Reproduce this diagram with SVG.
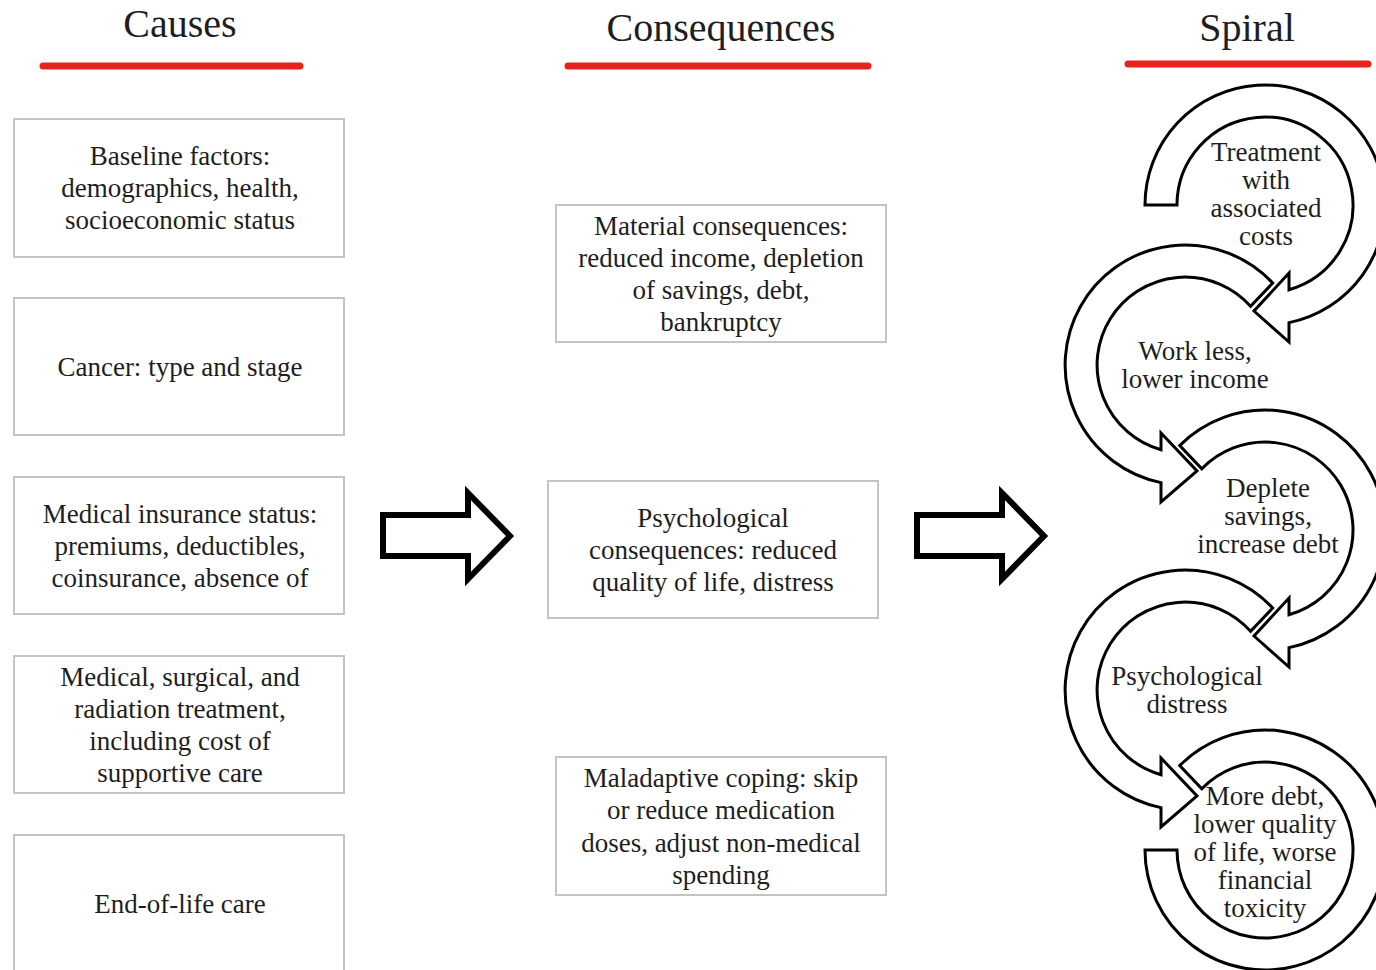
<svg xmlns="http://www.w3.org/2000/svg" width="1376" height="970" viewBox="0 0 1376 970">
<style>
.box{fill:#fff;stroke:#c4c4c4;stroke-width:2}
.t{font-family:"Liberation Serif","Times New Roman",serif;font-size:27px;fill:#1e1e1e;text-anchor:middle}
.h{font-family:"Liberation Serif","Times New Roman",serif;font-size:40px;fill:#1e1e1e;text-anchor:middle}
.ul{stroke:#e8231d;stroke-width:7;stroke-linecap:round}
.sp{fill:#fff;stroke:#000;stroke-width:3;stroke-linejoin:miter}
.ba{fill:#fff;stroke:#000;stroke-width:6;stroke-linejoin:miter}
</style>
<rect width="1376" height="970" fill="#fff"/>

<g id="headers">
<text class="h" x="180" y="37">Causes</text>
<text class="h" x="721" y="41">Consequences</text>
<text class="h" x="1247" y="41">Spiral</text>
<line class="ul" x1="43" y1="66" x2="300" y2="66"/>
<line class="ul" x1="568" y1="66" x2="868" y2="66"/>
<line class="ul" x1="1128" y1="64" x2="1368" y2="64"/>
</g>

<g id="cause1">
<rect class="box" x="14" y="119" width="330" height="138"/>
<text class="t" x="180" y="165">Baseline factors:</text>
<text class="t" x="180" y="197">demographics, health,</text>
<text class="t" x="180" y="229">socioeconomic status</text>
</g>
<g id="cause2">
<rect class="box" x="14" y="298" width="330" height="137"/>
<text class="t" x="180" y="376">Cancer: type and stage</text>
</g>
<g id="cause3">
<rect class="box" x="14" y="477" width="330" height="137"/>
<text class="t" x="180" y="523">Medical insurance status:</text>
<text class="t" x="180" y="555">premiums, deductibles,</text>
<text class="t" x="180" y="587">coinsurance, absence of</text>
</g>
<g id="cause4">
<rect class="box" x="14" y="656" width="330" height="137"/>
<text class="t" x="180" y="686">Medical, surgical, and</text>
<text class="t" x="180" y="718">radiation treatment,</text>
<text class="t" x="180" y="750">including cost of</text>
<text class="t" x="180" y="782">supportive care</text>
</g>
<g id="cause5">
<rect class="box" x="14" y="835" width="330" height="140"/>
<text class="t" x="180" y="913">End-of-life care</text>
</g>

<g id="cons1">
<rect class="box" x="556" y="205" width="330" height="137"/>
<text class="t" x="721" y="235">Material consequences:</text>
<text class="t" x="721" y="267">reduced income, depletion</text>
<text class="t" x="721" y="299">of savings, debt,</text>
<text class="t" x="721" y="331">bankruptcy</text>
</g>
<g id="cons2">
<rect class="box" x="548" y="481" width="330" height="137"/>
<text class="t" x="713" y="527">Psychological</text>
<text class="t" x="713" y="559">consequences: reduced</text>
<text class="t" x="713" y="591">quality of life, distress</text>
</g>
<g id="cons3">
<rect class="box" x="556" y="757" width="330" height="138"/>
<text class="t" x="721" y="787">Maladaptive coping: skip</text>
<text class="t" x="721" y="819">or reduce medication</text>
<text class="t" x="721" y="852">doses, adjust non-medical</text>
<text class="t" x="721" y="884">spending</text>
</g>

<g id="connectors">
<polygon class="ba" points="383,515 468,515 468,493 510,536 468,579 468,556 383,556"/>
<polygon class="ba" points="917,515 1002,515 1002,493 1044,536 1002,579 1002,556 917,556"/>
</g>

<g id="spiral1">
<path class="sp" d="M1145,205 A120,120 0 1 1 1289,322.6 L1289,342 L1254,311 L1289,273 L1289,289.7 A88,88 0 1 0 1177,205 Z"/>
<text class="t" x="1266" y="161">Treatment</text>
<text class="t" x="1266" y="189">with</text>
<text class="t" x="1266" y="217">associated</text>
<text class="t" x="1266" y="245">costs</text>
</g>
<g id="spiral2">
<path class="sp" d="M1272.7,283 A120,120 0 1 0 1161,482.6 L1161,502 L1197,471 L1161,433 L1161,449.7 A88,88 0 1 1 1250.6,306.3 Z"/>
<text class="t" x="1195" y="360">Work less,</text>
<text class="t" x="1195" y="388">lower income</text>
</g>
<g id="spiral3">
<path class="sp" d="M1179.7,445.6 A120,120 0 1 1 1289,647.6 L1289,667 L1254,636 L1289,598 L1289,614.7 A88,88 0 1 0 1201.8,468.8 Z"/>
<text class="t" x="1268" y="497">Deplete</text>
<text class="t" x="1268" y="525">savings,</text>
<text class="t" x="1268" y="553">increase debt</text>
</g>
<g id="spiral4">
<path class="sp" d="M1272.7,608 A120,120 0 1 0 1161,807.6 L1161,827 L1197,796 L1161,758 L1161,774.7 A88,88 0 1 1 1250.6,631.3 Z"/>
<text class="t" x="1187" y="685">Psychological</text>
<text class="t" x="1187" y="713">distress</text>
</g>
<g id="spiral5">
<path class="sp" d="M1179.7,765.6 A120,120 0 1 1 1145,850 L1177,850 A88,88 0 1 0 1201.8,788.8 Z"/>
<text class="t" x="1265" y="805">More debt,</text>
<text class="t" x="1265" y="833">lower quality</text>
<text class="t" x="1265" y="861">of life, worse</text>
<text class="t" x="1265" y="889">financial</text>
<text class="t" x="1265" y="917">toxicity</text>
</g>
</svg>
